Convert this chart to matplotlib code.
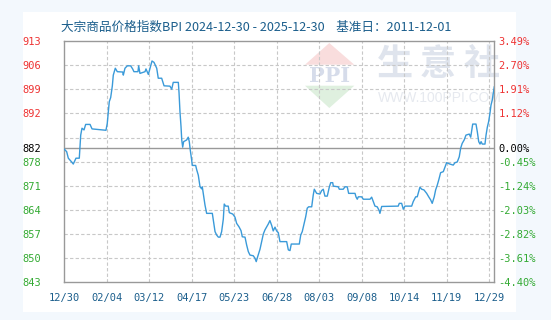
import matplotlib
matplotlib.use("Agg")
import matplotlib.pyplot as plt
from matplotlib.patches import Rectangle, Polygon

# BPI daily values, x = days since 2024-12-30
days = [0, 2.0, 3.4, 6.5, 7.6, 9.9, 12.7, 13.9, 15.0, 16.7, 18.1, 21.8, 23.5, 35.3,
        36.4, 37.3, 38.1, 39.3, 40.7, 41.5, 43.2, 44.9, 49.5, 50.0, 51.4, 53.4, 56.2,
        57.9, 59.0, 62.4, 63.0, 64.1, 68.4, 69.2, 71.2, 72.6, 74.3, 76.0, 78.3, 79.6,
        82.5, 84.5, 89.5, 91.0, 92.3, 96.6, 97.2, 98.0, 98.9, 99.5, 100.3, 101.1, 103.7,
        105.0, 105.9, 106.7, 107.9, 108.4, 111.3, 112.2, 113.5, 115.0, 116.4, 116.9,
        118.3, 119.2, 120.6, 125.4, 126.2, 127.7, 129.1, 130.5, 131.9, 133.3, 134.7,
        135.5, 136.7, 138.9, 139.8, 142.7, 144.6, 146.0, 148.0, 149.7, 150.8, 153.1,
        154.5, 155.9, 157.3, 160.1, 161.5, 162.6, 163.8, 165.8, 167.2, 168.6, 170.0,
        171.5, 172.8, 174.2, 175.7, 177.0, 178.5, 179.9, 181.3, 182.7, 188.4, 189.8,
        191.2, 192.3, 199.1, 200.3, 201.6, 203.1, 204.5, 205.8, 207.0, 209.6, 210.9,
        211.8, 213.8, 216.6, 218.0, 219.4, 220.8, 222.8, 224.5, 225.7, 227.4, 227.9,
        232.1, 233.0, 236.3, 237.8, 239.7, 240.9, 246.3, 247.1, 248.2, 249.1, 251.9,
        253.3, 259.0, 260.4, 261.8, 263.2, 265.1, 266.8, 267.4, 268.9, 282.9, 283.8,
        285.8, 287.2, 288.6, 294.3, 295.6, 297.7, 299.0, 301.3, 302.8, 304.7, 307.0,
        308.9, 310.4, 311.7, 313.4, 314.6, 316.0, 317.4, 318.8, 321.1, 322.5, 323.9,
        325.3, 326.7, 329.5, 331.0, 332.9, 334.6, 335.8, 337.1, 338.8, 340.3, 343.1,
        344.3, 346.0, 348.8, 349.9, 351.1, 352.2, 353.1, 354.1, 356.4, 357.3, 358.4,
        359.5, 360.6, 361.5, 362.6, 363.4, 364.3]
bpi = [881.6, 880.9, 879.0, 877.8, 877.3, 879.0, 879.0, 885.7, 887.7, 887.2, 888.8, 888.8,
       887.5, 887.1, 889.1, 892.5, 895.4, 896.6, 900.0, 903.1, 905.1, 904.1, 904.0, 903.1,
       905.1, 905.8, 905.8, 904.9, 904.1, 904.1, 905.8, 903.6, 904.1, 904.9, 903.3, 905.1,
       907.2, 906.8, 905.1, 902.2, 902.2, 900.0, 899.9, 899.0, 901.0, 901.0, 898.0, 892.5,
       888.1, 884.3, 882.2, 883.8, 884.3, 885.1, 883.8, 881.4, 878.5, 876.9, 876.9, 875.6,
       874.1, 870.7, 870.1, 870.7, 867.4, 865.4, 863.0, 863.0, 861.1, 857.7, 856.7, 856.1,
       856.1, 857.7, 861.3, 865.7, 865.1, 865.1, 863.2, 862.8, 861.9, 860.1, 859.1, 858.0,
       856.2, 856.1, 853.8, 851.9, 850.9, 850.7, 850.0, 849.0, 850.4, 852.6, 854.8, 857.0,
       858.2, 859.1, 859.9, 860.9, 859.5, 857.9, 859.0, 857.9, 857.4, 854.8, 854.8, 852.4,
       852.2, 854.1, 854.1, 856.7, 857.7, 859.9, 862.0, 864.5, 864.9, 864.9, 868.3, 870.0,
       868.8, 868.6, 869.6, 870.0, 868.0, 868.0, 870.6, 871.9, 871.9, 870.9, 870.7, 870.0,
       870.0, 870.7, 870.7, 868.8, 868.8, 867.8, 867.1, 867.8, 867.8, 867.1, 867.1, 867.7,
       866.4, 865.1, 864.9, 863.8, 863.0, 865.0, 865.1, 865.9, 865.9, 864.2, 865.1, 865.1,
       866.4, 867.8, 867.8, 870.6, 870.0, 869.8, 868.8, 867.7, 866.9, 865.9, 867.8, 869.8,
       871.2, 872.9, 874.8, 875.1, 876.4, 877.7, 877.5, 877.3, 877.0, 877.7, 877.9, 879.4,
       881.9, 883.3, 884.3, 885.7, 886.0, 885.1, 888.9, 888.9, 886.7, 883.8, 883.1, 883.8,
       883.1, 883.1, 885.7, 888.0, 889.6, 892.0, 894.4, 895.9, 897.8, 899.7]

base_value = 882
left_ticks = [913, 906, 899, 892, 882, 878, 871, 864, 857, 850, 843]
right_labels = ["3.49%", "2.70%", "1.91%", "1.12%", "0.00%", "-0.45%", "-1.24%",
                "-2.03%", "-2.82%", "-3.61%", "-4.40%"]
grid_y = [906, 899, 892, 885, 878, 871, 864, 857, 850]
x_ticks = [0, 36, 72, 108, 144, 180, 216, 252, 288, 324, 360]
x_labels = ["12/30", "02/04", "03/12", "04/17", "05/23", "06/28", "08/03",
            "09/08", "10/14", "11/19", "12/29"]

title = "大宗商品价格指数BPI 2024-12-30 - 2025-12-30    基准日：2011-12-01"

red = "#ee3333"
green = "#33aa33"
blue_txt = "#1b5e8c"
line_c = "#3a9ad9"
grid_c = "#c8c8c8"
frame_c = "#999999"

W, H = 551, 320
fig = plt.figure(figsize=(W / 100, H / 100), dpi=100)
fig.patch.set_facecolor("#f3f8fd")

def fx(px):
    return px / W

def fy(py):
    return 1 - py / H

# white panel
fig.patches.append(Rectangle((fx(23), fy(312)), fx(516) - fx(23), fy(12) - fy(312),
                             transform=fig.transFigure, facecolor="white",
                             edgecolor="none", zorder=-5))

# watermark (logo + site name)
fig.patches.append(Polygon([(fx(305), fy(64.7)), (fx(329.3), fy(43)), (fx(354.3), fy(64.7))],
                           closed=True, transform=fig.transFigure, facecolor="#f9dddd",
                           edgecolor="none", zorder=-4))
fig.patches.append(Polygon([(fx(305), fy(85.7)), (fx(329.3), fy(108)), (fx(354.3), fy(85.7))],
                           closed=True, transform=fig.transFigure, facecolor="#dff0df",
                           edgecolor="none", zorder=-4))
fig.text(fx(329.5), fy(75.5), "PPI", ha="center", va="center", fontsize=15,
         family="DejaVu Serif", fontweight="bold", color="#d6dcea", zorder=-3)
for ch, cx in zip("生意社", [395, 438, 482]):
    fig.text(fx(cx), fy(64), ch, ha="center", va="center", fontsize=26,
             family="Noto Sans CJK SC", fontweight="bold", color="#dfe4ed", zorder=-3)
fig.text(fx(440), fy(98), "WWW.100PPI.COM", ha="center", va="center", fontsize=10,
         family="Liberation Sans", color="#e6e9ef", zorder=-3)

fig.text(fx(61), fy(27.5), title, ha="left", va="center", fontsize=9.1,
         family=["Noto Sans CJK SC", "DejaVu Sans"], color=blue_txt)

ax = fig.add_axes([fx(64.3), fy(282.3), fx(494.3) - fx(64.3), fy(41) - fy(282.3)])
ax.set_facecolor("none")
ax.set_xlim(0, 364.3)
ax.set_ylim(843, 913)

for gy in grid_y:
    ax.axhline(gy, color=grid_c, lw=0.8, ls=(0, (3, 2)), zorder=1)
for gx in x_ticks[1:]:
    ax.axvline(gx, color=grid_c, lw=0.8, ls=(0, (3, 2)), zorder=1)
ax.axhline(base_value, color=frame_c, lw=1.0, zorder=2)

ax.plot(days, bpi, color=line_c, lw=1.0, zorder=3)

for s in ax.spines.values():
    s.set_color(frame_c)
    s.set_linewidth(1.0)

mono = "DejaVu Sans Mono"
ax.set_xticks(x_ticks)
ax.set_xticklabels(x_labels, family=mono, fontsize=7.5, color=blue_txt)
ax.set_yticks(left_ticks)
ax.set_yticklabels([str(v) for v in left_ticks], family=mono, fontsize=7.5)
ax.tick_params(axis="x", length=0, pad=8)
ax.tick_params(axis="y", length=0, pad=17)

def pick(v):
    if v > base_value:
        return red
    if v < base_value:
        return green
    return "black"

for lab, v in zip(ax.get_yticklabels(), left_ticks):
    lab.set_color(pick(v))

ax2 = ax.twinx()
ax2.set_ylim(843, 913)
ax2.set_yticks(left_ticks)
ax2.set_yticklabels(right_labels, family=mono, fontsize=7.5)
ax2.tick_params(axis="y", length=0, pad=3)
for s in ax2.spines.values():
    s.set_visible(False)
for lab, v in zip(ax2.get_yticklabels(), left_ticks):
    lab.set_color(pick(v))

fig.savefig("out.png", dpi=100, facecolor=fig.get_facecolor())
